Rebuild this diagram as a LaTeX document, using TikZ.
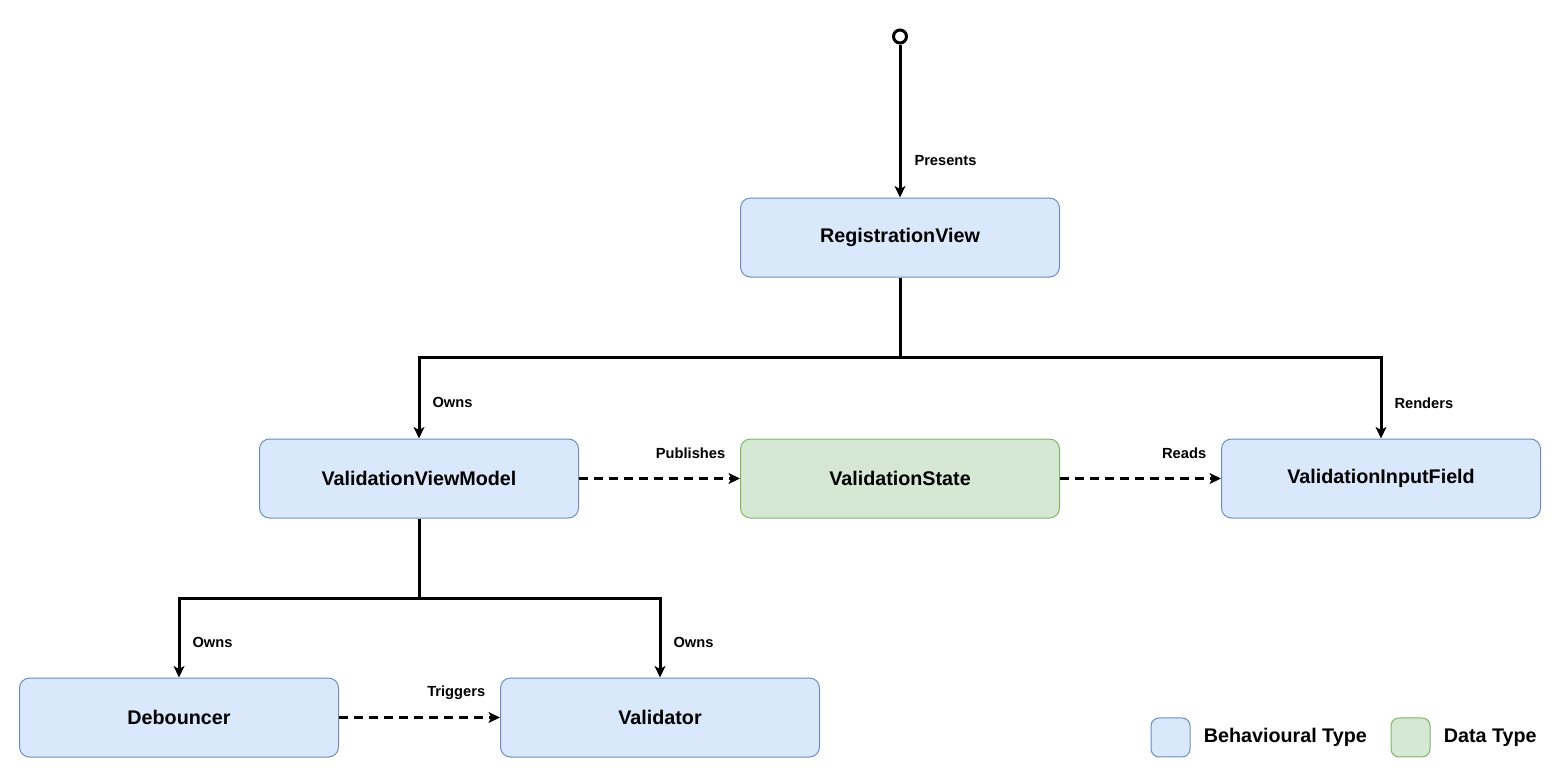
\documentclass[tikz,border=0pt]{standalone}
\usepackage{fontspec}
\setmainfont{Liberation Sans}
\usetikzlibrary{arrows.meta,positioning}
\definecolor{behavfill}{HTML}{DAE8FC}
\definecolor{behavdraw}{HTML}{6C8EBF}
\definecolor{datafill}{HTML}{D5E8D4}
\definecolor{datadraw}{HTML}{82B366}
\tikzset{
  >={Stealth[length=8.5pt,width=8pt,inset=2pt]},
  font=\fontsize{14.8pt}{17pt}\selectfont\bfseries,
  box/.style={line width=0.75pt,rounded corners=7.5pt,minimum width=239.25pt,
              minimum height=59.25pt,inner sep=0pt,align=center},
  behav/.style={box,draw=behavdraw,fill=behavfill},
  datatype/.style={box,draw=datadraw,fill=datafill},
  swatch/.style={line width=0.75pt,rounded corners=6pt,minimum size=29.25pt,
                 inner sep=0pt},
  startdot/.style={circle,draw,line width=2.25pt,fill=white,minimum size=9.75pt,
                   inner sep=0pt},
  flow/.style={->,line width=2.25pt,draw=black},
  dep/.style={flow,dash pattern=on 6.75pt off 4.5pt},
  flowlbl/.style={font=\fontsize{11pt}{13pt}\selectfont\bfseries,inner sep=0pt},
  keylbl/.style={inner sep=0pt,anchor=west},
}
\begin{document}
\begin{tikzpicture}[node distance=120.75pt]
  \useasboundingbox (0,0) rectangle (1170.75pt,-583.5pt);
  \node[behav] (reg) at (675pt,-178.125pt) {RegistrationView};
  \node[datatype,below=of reg] (state) {ValidationState};
  \node[behav,left=of state] (vvm) {ValidationViewModel};
  \node[behav,right=of state] (field) {ValidationInputField};
  \node[behav,below=119.25pt of vvm,xshift=-180pt] (deb) {Debouncer};
  \node[behav,right=of deb] (validator) {Validator};
  \node[startdot,above=114.75pt of reg] (start) {};

  % ownership tree
  \draw[flow] (start) -- node[flowlbl,pos=0.76,right=9.75pt]{Presents} (reg);
  \draw[flow] (reg.south) -- ++(0,-60pt) -| node[flowlbl,pos=0.78,right=9pt]{Owns} (vvm.north);
  \draw[flow] (reg.south) -- ++(0,-60pt) -| node[flowlbl,pos=0.78,right=9pt]{Renders} (field.north);
  \draw[flow] (vvm.south) -- ++(0,-60pt) -| node[flowlbl,pos=0.78,right=9pt]{Owns} (deb.north);
  \draw[flow] (vvm.south) -- ++(0,-60pt) -| node[flowlbl,pos=0.78,right=9pt]{Owns} (validator.north);

  % dashed dependencies
  \draw[dep] (vvm) -- node[flowlbl,pos=1,above left=14pt and 10pt]{Publishes} (state);
  \draw[dep] (state) -- node[flowlbl,pos=1,above left=14pt and 10pt]{Reads} (field);
  \draw[dep] (deb) -- node[flowlbl,pos=1,above left=12.5pt and 10pt]{Triggers} (validator);

  % key
  \node[swatch,draw=behavdraw,fill=behavfill] (keybehav) at (877.9pt,-553.1pt) {};
  \node[keylbl,right=9.75pt of keybehav] (keybehavlbl) {Behavioural Type};
  \node[swatch,draw=datadraw,fill=datafill] (keydata) at (1057.9pt,-553.1pt) {};
  \node[keylbl,right=9.75pt of keydata] (keydatalbl) {Data Type};
\end{tikzpicture}
\end{document}
